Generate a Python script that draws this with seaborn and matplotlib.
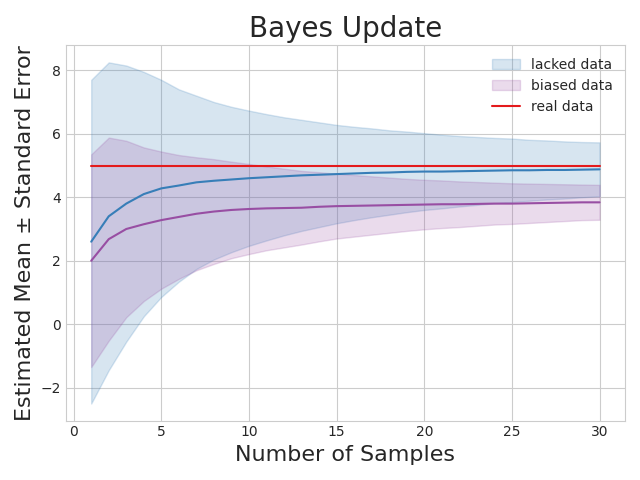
import numpy as np
import pandas as pd
import seaborn as sns
import matplotlib
matplotlib.use("Agg")
import matplotlib.pyplot as plt

samples = list(range(1, 31))
lacked_mean = [2.6, 3.4, 3.8, 4.1, 4.28, 4.37, 4.47, 4.52, 4.56, 4.6, 4.63, 4.66, 4.69, 4.71, 4.73,
               4.75, 4.77, 4.78, 4.8, 4.81, 4.81, 4.82, 4.83, 4.84, 4.85, 4.85, 4.86, 4.86, 4.87, 4.88]
lacked_se = [5.1, 4.85, 4.35, 3.85, 3.42, 3.03, 2.73, 2.48, 2.29, 2.13, 1.99, 1.86, 1.75, 1.65, 1.55,
             1.47, 1.40, 1.33, 1.27, 1.21, 1.16, 1.11, 1.07, 1.03, 1.00, 0.96, 0.93, 0.90, 0.87, 0.85]
biased_mean = [2.0, 2.68, 3.0, 3.15, 3.28, 3.38, 3.48, 3.55, 3.6, 3.63, 3.65, 3.66, 3.67, 3.7, 3.72,
               3.73, 3.74, 3.75, 3.76, 3.77, 3.78, 3.78, 3.79, 3.8, 3.8, 3.81, 3.82, 3.83, 3.84, 3.84]
biased_se = [3.35, 3.2, 2.78, 2.42, 2.16, 1.95, 1.78, 1.65, 1.52, 1.42, 1.32, 1.24, 1.16, 1.09, 1.02,
             0.97, 0.92, 0.87, 0.82, 0.78, 0.75, 0.72, 0.69, 0.66, 0.64, 0.62, 0.60, 0.58, 0.56, 0.55]
real_value = 5.0

sns.set_style("whitegrid")
plt.rcParams["font.family"] = ["DejaVu Sans"]
plt.rcParams.update({"xtick.major.size": 0, "ytick.major.size": 0,
                     "xtick.minor.size": 0, "ytick.minor.size": 0})
pal = sns.color_palette("Set1")
blue, purple, red = pal[1], pal[3], pal[0]

fig, ax = plt.subplots(figsize=(6.4, 4.8), dpi=100)
x = np.array(samples)
lm, ls = np.array(lacked_mean), np.array(lacked_se)
bm, bs = np.array(biased_mean), np.array(biased_se)

ax.fill_between(x, lm - ls, lm + ls, color=blue, alpha=0.2, label="lacked data")
sns.lineplot(x=x, y=lm, color=blue, ax=ax)
ax.fill_between(x, bm - bs, bm + bs, color=purple, alpha=0.2, label="biased data")
sns.lineplot(x=x, y=bm, color=purple, ax=ax)
sns.lineplot(x=x, y=[real_value] * len(samples), color=red, ax=ax, label="real data")

ax.set_title("Bayes Update", fontsize=20)
ax.set_xlabel("Number of Samples", fontsize=16)
ax.set_ylabel("Estimated Mean \u00b1 Standard Error", fontsize=16)
ax.legend(loc="upper right", frameon=False, fontsize=10)
plt.tight_layout()
plt.savefig("out.png", dpi=100)
